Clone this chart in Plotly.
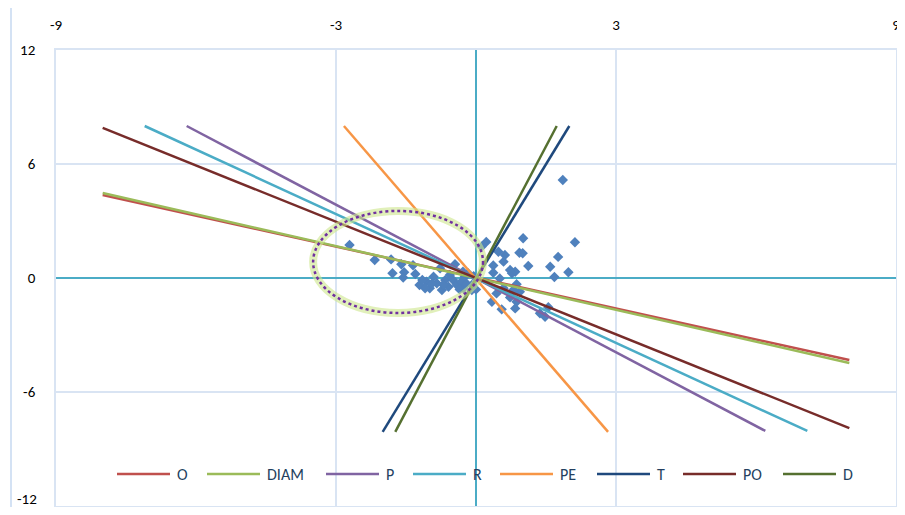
import plotly.graph_objects as go

# ---- data ----
line_names = ["O", "DIAM", "P", "R", "PE", "T", "PO", "D"]
line_colors = ["#c0504d", "#9bbb59", "#8064a2", "#4bacc6", "#f79646", "#1f497d", "#772c2a", "#557030"]
line_x = [[-8.0, 8.0], [-8.0, 8.0], [-6.2, 6.2], [-7.1, 7.1], [-2.83, 2.83], [2.0, -2.0], [-8.0, 8.0], [1.73, -1.73]]
line_y = [[4.37, -4.32], [4.47, -4.47], [8.0, -8.05], [8.0, -8.05], [8.0, -8.1], [8.0, -8.1], [7.9, -7.9], [8.0, -8.1]]

pts_x = [-2.71, -2.17, -1.82, -1.60, -1.35, -1.79, -1.54, -1.30, -1.56, -0.45,
         -0.77, -1.21, -1.06, -0.99, -0.84, -0.73, -0.66, -0.59, -0.49, -0.41,
         -0.31, -0.24, -0.27, -0.17, -0.09, -0.91, -0.56, -1.09, -0.35, -0.20,
         -0.05, -0.70, -0.95, -1.15, -0.28, -0.09, 0.00,
         0.12, 0.22, 1.01, 2.12, 0.48, 0.62, 0.93, 1.00, 0.59, 0.37,
         1.12, 1.59, 1.76, 1.98, 1.68, 0.73, 0.84, 0.77, 0.37, 0.51,
         0.87, 0.59, 0.44, 0.94, 0.73, 0.34, 0.55, 0.87, 0.84, 1.37,
         1.48, 1.55, 1.86, 0.80]
pts_y = [1.74, 0.95, 0.98, 0.72, 0.67, 0.25, 0.30, 0.21, 0.02, 0.72,
         0.51, -0.37, -0.19, -0.54, -0.28, -0.63, -0.11, -0.46, -0.11, -0.37,
         -0.19, 0.07, -0.54, 0.25, -0.37, 0.07, 0.16, -0.54, -0.60, -0.30,
         0.10, -0.35, -0.30, -0.10, 0.33, -0.63, -0.60,
         1.65, 1.90, 2.09, 1.88, 1.38, 1.21, 1.33, 1.30, 0.86, 0.66,
         0.63, 0.59, 1.11, 0.30, 0.05, 0.42, 0.33, 0.25, 0.28, -0.02,
         -0.33, -0.54, -0.81, -0.72, -1.02, -1.25, -1.65, -1.25, -1.60, -1.86,
         -2.04, -1.54, 5.16, -0.63]

ellipse_x = [-3.49, 0.15]
ellipse_y = [-1.84, 3.53]

x_ticks = [-9, -3, 3, 9]
y_ticks = [-6, 0, 6, 12]
y_bottom_label = -12

# ---- layout constants (page pixels; the page body adds an 8px offset) ----
OFF = 8
W, H = 905 - OFF, 515 - 2 * OFF
PLOT_L, PLOT_R, PLOT_T, PLOT_B = 56, 896, 50, 506   # plot area in page pixels
L = PLOT_L - OFF
T = PLOT_T - OFF
R = W - (PLOT_R - OFF)
B = H - (PLOT_B - OFF)
PW, PH = PLOT_R - PLOT_L, PLOT_B - PLOT_T
FONT = "Liberation Sans Narrow, Carlito, Open Sans, sans-serif"
GRID = "#d9e4f3"
AXIS = "#4bacc6"


def px_x(p):
    return (p - PLOT_L) / PW


def px_y(p):
    return (PLOT_B - p) / PH


fig = go.Figure()

fig.add_trace(go.Scatter(
    x=pts_x, y=pts_y, mode="markers", showlegend=False,
    marker=dict(symbol="diamond", size=8, color="#4f81bd"),
    hoverinfo="skip"))

for name, col, xs, ys in zip(line_names, line_colors, line_x, line_y):
    fig.add_trace(go.Scatter(x=xs, y=ys, mode="lines", name=name, showlegend=False,
                             line=dict(color=col, width=2.5)))

# ellipse: glow + dotted outline
fig.add_shape(type="circle", xref="x", yref="y",
              x0=ellipse_x[0], x1=ellipse_x[1], y0=ellipse_y[0], y1=ellipse_y[1],
              line=dict(color="rgba(205,230,140,0.6)", width=8), layer="above")
fig.add_shape(type="circle", xref="x", yref="y",
              x0=ellipse_x[0], x1=ellipse_x[1], y0=ellipse_y[0], y1=ellipse_y[1],
              line=dict(color="#7030a0", width=2.5, dash="dot"), layer="above")

# outer chart border
fig.add_shape(type="rect", xref="paper", yref="paper",
              x0=px_x(11), x1=px_x(925), y0=px_y(530), y1=px_y(4),
              line=dict(color="#c6d9f1", width=1.5), layer="below")

# bottom y label, lifted slightly as in the reference
fig.add_annotation(xref="paper", yref="y", x=px_x(39), y=y_bottom_label, yshift=7,
                   text=str(y_bottom_label), showarrow=False, xanchor="right", yanchor="middle",
                   font=dict(family=FONT, size=15, color="black"))

# legend (drawn manually to match the long line samples)
legend_left = [117, 207, 326, 413, 500, 597, 683, 783]
LEG_Y = 474
for name, col, lx in zip(line_names, line_colors, legend_left):
    fig.add_shape(type="line", xref="paper", yref="paper",
                  x0=px_x(lx), x1=px_x(lx + 53), y0=px_y(LEG_Y), y1=px_y(LEG_Y),
                  line=dict(color=col, width=2.5))
    fig.add_annotation(xref="paper", yref="paper", x=px_x(lx + 58), y=px_y(LEG_Y),
                       text=name, showarrow=False, xanchor="left", yanchor="middle",
                       font=dict(family=FONT, size=16, color="#243f60"))

fig.update_layout(
    width=W, height=H,
    margin=dict(l=L, r=R, t=T, b=B),
    paper_bgcolor="white", plot_bgcolor="white",
    font=dict(family=FONT, size=15, color="black"),
    showlegend=False,
    xaxis=dict(range=[-9, 9], side="top", tickvals=x_ticks, ticktext=[str(v) for v in x_ticks],
               showgrid=True, gridcolor=GRID, gridwidth=1.5,
               zeroline=True, zerolinecolor=AXIS, zerolinewidth=1.5,
               showline=True, linecolor=GRID, linewidth=1.5, mirror=True,
               ticks="", ticklabelstandoff=12, automargin=False, fixedrange=True),
    yaxis=dict(range=[-12, 12], tickvals=y_ticks, ticktext=[str(v) for v in y_ticks],
               showgrid=True, gridcolor=GRID, gridwidth=1.5,
               zeroline=True, zerolinecolor=AXIS, zerolinewidth=1.5,
               showline=True, linecolor=GRID, linewidth=1.5, mirror=True,
               ticks="", ticklabelstandoff=16, automargin=False, fixedrange=True),
)

fig.write_html("out.html")
